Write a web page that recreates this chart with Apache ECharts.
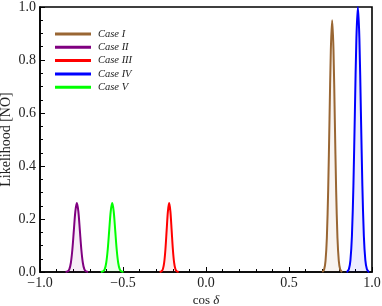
<!DOCTYPE html>
<html><head><meta charset="utf-8">
<script src="https://cdn.jsdelivr.net/npm/echarts@6/dist/echarts.min.js"></script>
<style>html,body{margin:0;padding:0;background:#fff}#c{width:382px;height:306px}</style>
</head><body><div id="c"></div>
<script>
const caseNames = ['Case I','Case II','Case III','Case IV','Case V'];
const caseColors = ['#996633','#800080','#ff0000','#0000ff','#00ff00'];
const caseI = [[0.700,0],[0.704,0.002],[0.712,0.010],[0.720,0.042],[0.728,0.128],[0.736,0.309],[0.744,0.576],[0.752,0.838],[0.760,0.950],[0.768,0.838],[0.776,0.576],[0.784,0.309],[0.792,0.128],[0.800,0.042],[0.808,0.010],[0.816,0.002],[0.820,0]];
const caseII = [[-0.846,0],[-0.841,0.001],[-0.832,0.003],[-0.823,0.011],[-0.814,0.035],[-0.805,0.085],[-0.796,0.158],[-0.787,0.229],[-0.778,0.260],[-0.769,0.229],[-0.760,0.158],[-0.751,0.085],[-0.742,0.035],[-0.733,0.011],[-0.724,0.003],[-0.715,0.001],[-0.710,0]];
const caseIII = [[-0.279,0],[-0.2745,0.001],[-0.267,0.003],[-0.2595,0.011],[-0.252,0.035],[-0.2445,0.085],[-0.237,0.158],[-0.2295,0.229],[-0.222,0.260],[-0.2145,0.229],[-0.207,0.158],[-0.1995,0.085],[-0.192,0.035],[-0.1845,0.011],[-0.177,0.003],[-0.1695,0.001],[-0.165,0]];
const caseIV = [[0.847,0],[0.852,0.002],[0.861,0.011],[0.870,0.044],[0.879,0.135],[0.888,0.325],[0.897,0.607],[0.906,0.882],[0.915,1.0],[0.924,0.882],[0.933,0.607],[0.942,0.325],[0.951,0.135],[0.960,0.044],[0.969,0.011],[0.978,0.002],[0.983,0]];
const caseV = [[-0.633,0],[-0.628,0.001],[-0.619,0.003],[-0.610,0.011],[-0.601,0.035],[-0.592,0.085],[-0.583,0.158],[-0.574,0.229],[-0.565,0.260],[-0.556,0.229],[-0.547,0.158],[-0.538,0.085],[-0.529,0.035],[-0.520,0.011],[-0.511,0.003],[-0.502,0.001],[-0.497,0]];
const caseData = [caseI, caseII, caseIII, caseIV, caseV];

const serif = '"Liberation Serif","DejaVu Serif",serif';
const fmt = v => (v < 0 ? '\u2212' : '') + Math.abs(v).toFixed(1);
const chart = echarts.init(document.getElementById('c'));
chart.setOption({
  animation: false,
  grid: {left: 40, right: 10, top: 7, bottom: 34, outerBoundsMode: 'none', containLabel: false, show: true, borderColor: '#000', borderWidth: 1.6, backgroundColor: 'transparent'},
  legend: {
    orient: 'vertical', left: 55, top: 28, padding: 0, itemWidth: 36, itemHeight: 3, itemGap: 1.3, icon: 'rect',
    textStyle: {fontFamily: serif, fontStyle: 'italic', fontSize: 10.5, color: '#222', lineHeight: 12, padding: [0,0,0,2]},
    data: caseNames
  },
  xAxis: {
    type: 'value', min: -1, max: 1, interval: 0.5,
    axisLine: {onZero: false, lineStyle: {color: '#000', width: 1.6}},
    axisTick: {inside: true, length: 5, lineStyle: {color: '#000'}},
    minorTick: {show: true, splitNumber: 5, length: 3, lineStyle: {color: '#000'}},
    splitLine: {show: false},
    axisLabel: {fontFamily: serif, fontSize: 14, color: '#222', margin: 4, formatter: fmt},
    name: '{a|cos }{b|δ}', nameLocation: 'middle', nameGap: 22, nameMoveOverlap: false,
    nameTextStyle: {rich: {a: {fontFamily: serif, fontSize: 13, color: '#222'}, b: {fontFamily: serif, fontSize: 13, fontStyle: 'italic', color: '#222'}}}
  },
  yAxis: {
    type: 'value', min: 0, max: 1, interval: 0.2,
    axisLine: {onZero: false, lineStyle: {color: '#000', width: 1.6}},
    axisTick: {inside: true, length: 5, lineStyle: {color: '#000'}},
    minorTick: {show: true, splitNumber: 4, length: 3, lineStyle: {color: '#000'}},
    splitLine: {show: false},
    axisLabel: {fontFamily: serif, fontSize: 14, color: '#222', margin: 4, formatter: v => v.toFixed(1)},
    name: 'Likelihood [NO]', nameLocation: 'middle', nameGap: 27, nameRotate: 90, nameMoveOverlap: false,
    nameTextStyle: {fontFamily: serif, fontSize: 14, color: '#222'}
  },
  series: caseNames.map((n, i) => ({
    name: n, type: 'line', data: caseData[i], symbol: 'none', smooth: 0.3,
    lineStyle: {color: caseColors[i], width: 2},
    itemStyle: {color: caseColors[i]},
    areaStyle: {color: caseColors[i], opacity: 0.07}
  }))
});
</script></body></html>
